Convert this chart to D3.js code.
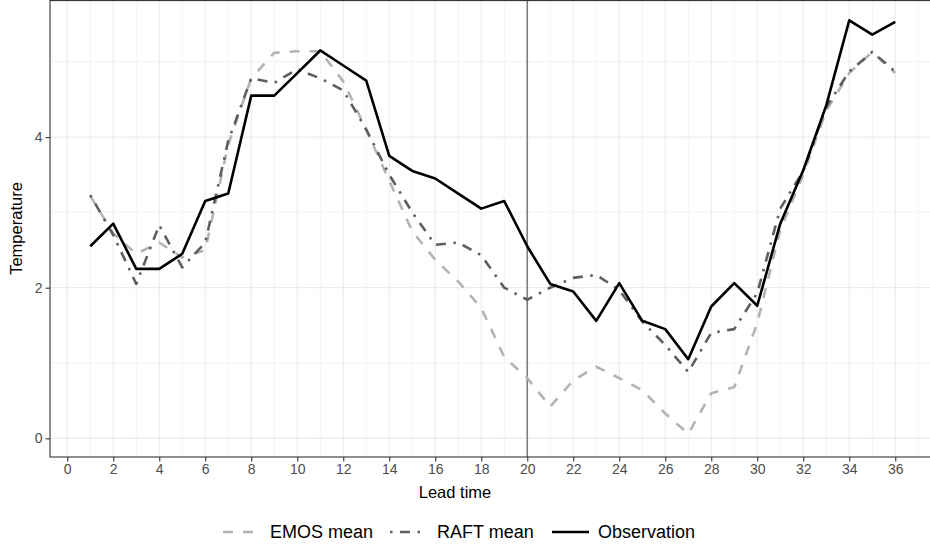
<!DOCTYPE html>
<html>
<head>
<meta charset="utf-8">
<script src="https://cdn.jsdelivr.net/npm/d3@7"></script>
<style>
  html, body { margin: 0; padding: 0; background: #ffffff; }
  svg { display: block; font-family: "Liberation Sans", Arial, sans-serif; }
</style>
</head>
<body>
<svg id="chart" width="930" height="546"></svg>
<script>
// Lead times (hours ahead) and the three temperature series
const leadTimes = [1,2,3,4,5,6,7,8,9,10,11,12,13,14,15,16,17,18,19,20,21,22,23,24,25,26,27,28,29,30,31,32,33,34,35,36];

const emosMean = [3.22,2.72,2.45,2.6,2.4,2.5,3.9,4.78,5.12,5.14,5.14,4.74,4.1,3.42,2.75,2.37,2.08,1.73,1.08,0.8,0.42,0.77,0.95,0.8,0.64,0.33,0.06,0.6,0.68,1.53,2.77,3.5,4.35,4.85,5.13,4.85];

const raftMean = [3.23,2.7,2.05,2.83,2.27,2.6,3.95,4.78,4.72,4.9,4.78,4.62,4.1,3.5,3.0,2.57,2.6,2.43,2.0,1.84,2.0,2.13,2.17,1.97,1.55,1.24,0.88,1.4,1.45,1.93,3.05,3.55,4.4,4.87,5.13,4.87];

const observation = [2.55,2.85,2.25,2.25,2.45,3.15,3.25,4.55,4.55,4.85,5.15,4.95,4.75,3.75,3.55,3.45,3.25,3.05,3.15,2.55,2.05,1.95,1.56,2.06,1.56,1.45,1.05,1.75,2.06,1.76,2.85,3.56,4.42,5.55,5.36,5.53];

const xTicks = d3.range(0, 37, 2);
const yTicks = [0, 2, 4];
const splitLead = 20;

const seriesList = [
  { name: "EMOS mean",   values: emosMean,    color: "#b3b3b3", dash: "10,10" },
  { name: "RAFT mean",   values: raftMean,    color: "#5e5e5e", dash: "2.5,7.5,10,7.5" },
  { name: "Observation", values: observation, color: "#000000", dash: null }
];

const svg = d3.select("#chart");
const panel = { left: 50, top: 0, right: 935.5, bottom: 457 };

const x = d3.scaleLinear().domain([-0.75, 37.75]).range([panel.left, panel.right]);
const y = d3.scaleLinear().domain([-0.248, 5.82]).range([panel.bottom, panel.top]);

const grid = svg.append("g");
// minor grid
d3.range(1, 38, 2).forEach(v => {
  grid.append("line").attr("x1", x(v)).attr("x2", x(v)).attr("y1", panel.top).attr("y2", panel.bottom)
    .attr("stroke", "#ebebeb").attr("stroke-width", 0.6);
});
[1, 3, 5].forEach(v => {
  grid.append("line").attr("x1", panel.left).attr("x2", panel.right).attr("y1", y(v)).attr("y2", y(v))
    .attr("stroke", "#ebebeb").attr("stroke-width", 0.6);
});
// major grid
xTicks.forEach(v => {
  grid.append("line").attr("x1", x(v)).attr("x2", x(v)).attr("y1", panel.top).attr("y2", panel.bottom)
    .attr("stroke", "#ebebeb").attr("stroke-width", 1.2);
});
yTicks.forEach(v => {
  grid.append("line").attr("x1", panel.left).attr("x2", panel.right).attr("y1", y(v)).attr("y2", y(v))
    .attr("stroke", "#ebebeb").attr("stroke-width", 1.2);
});

// split marker
svg.append("line")
  .attr("x1", x(splitLead)).attr("x2", x(splitLead))
  .attr("y1", panel.top).attr("y2", panel.bottom)
  .attr("stroke", "#7f7f7f").attr("stroke-width", 1.6);

// series lines
const line = d3.line().x((d, i) => x(leadTimes[i])).y(d => y(d));
seriesList.forEach(s => {
  svg.append("path")
    .datum(s.values)
    .attr("d", line)
    .attr("fill", "none")
    .attr("stroke", s.color)
    .attr("stroke-width", 2.6)
    .attr("stroke-linejoin", "round")
    .attr("stroke-linecap", "butt")
    .attr("stroke-dasharray", s.dash);
});

// panel border
svg.append("rect")
  .attr("x", panel.left).attr("y", panel.top + 0.55)
  .attr("width", panel.right - panel.left + 5).attr("height", panel.bottom - panel.top - 0.55)
  .attr("fill", "none").attr("stroke", "#333333").attr("stroke-width", 1.1);

// axes
const xAxis = svg.append("g")
  .attr("transform", `translate(0,${panel.bottom})`)
  .call(d3.axisBottom(x).tickValues(xTicks).tickSize(4.5).tickPadding(3).tickFormat(d3.format("d")));
const yAxis = svg.append("g")
  .attr("transform", `translate(${panel.left},0)`)
  .call(d3.axisLeft(y).tickValues(yTicks).tickSize(4.5).tickPadding(3).tickFormat(d3.format("d")));

[xAxis, yAxis].forEach(a => {
  a.select(".domain").remove();
  a.selectAll(".tick line").attr("stroke", "#333333").attr("stroke-width", 1.1);
  a.selectAll(".tick text").attr("fill", "#4d4d4d").style("font-size", "14px")
    .style("font-family", "'Liberation Sans', Arial, sans-serif");
});

// axis titles
svg.append("text")
  .attr("x", 455).attr("y", 498)
  .attr("text-anchor", "middle")
  .style("font-size", "16.5px")
  .text("Lead time");

svg.append("text")
  .attr("transform", `translate(22,${(panel.top + panel.bottom) / 2}) rotate(-90)`)
  .attr("text-anchor", "middle")
  .style("font-size", "16.5px")
  .text("Temperature");

// legend
const legendItems = [
  { s: seriesList[0], keyX: 223, textX: 270 },
  { s: seriesList[1], keyX: 390, textX: 437 },
  { s: seriesList[2], keyX: 552, textX: 598 }
];
const legendY = 532;
const legend = svg.append("g");
legendItems.forEach(item => {
  legend.append("line")
    .attr("x1", item.keyX).attr("x2", item.keyX + 37)
    .attr("y1", legendY).attr("y2", legendY)
    .attr("stroke", item.s.color)
    .attr("stroke-width", 2.6)
    .attr("stroke-dasharray", item.s.dash);
  legend.append("text")
    .attr("x", item.textX).attr("y", legendY)
    .attr("dy", "0.35em")
    .style("font-size", "18px")
    .text(item.s.name);
});
</script>
</body>
</html>
